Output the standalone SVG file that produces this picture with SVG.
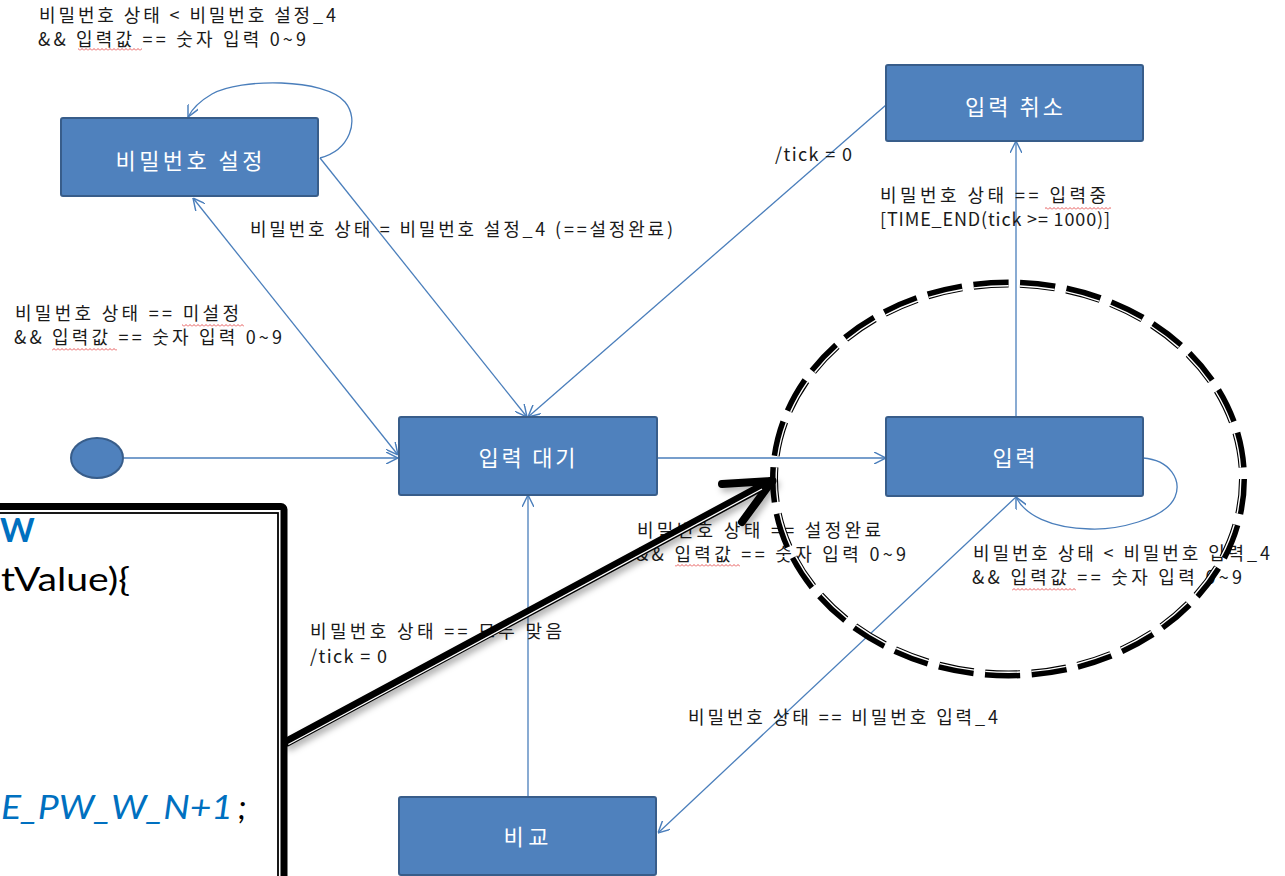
<svg xmlns="http://www.w3.org/2000/svg" width="1285" height="876" viewBox="0 0 1285 876">
<style>
.node{fill:#4F81BD;stroke:#385D8A;stroke-width:2}
.nt{font-family:"Noto Sans CJK KR","Noto Sans",sans-serif;font-size:22px;fill:#fff;text-anchor:middle}
.lb{font-family:"Noto Sans CJK KR","Noto Sans",sans-serif;font-size:18px;fill:#1a1a1a}
.cn{fill:none;stroke:#4A7EBB;stroke-width:1.3}
.code{font-family:Lato,"Open Sans",sans-serif;font-size:33px}
</style>
<defs>
<marker id="arr" viewBox="0 0 10 10" markerWidth="12" markerHeight="12" refX="10" refY="5" orient="auto-start-reverse" markerUnits="userSpaceOnUse">
<path d="M0,0 L10,5 L0,10" fill="none" stroke="#4A7EBB" stroke-width="1.2"/>
</marker>
<pattern id="wave" width="4" height="3" patternUnits="userSpaceOnUse">
<path d="M0,2.5 L2,0.5 L4,2.5" fill="none" stroke="#e03030" stroke-width="0.8"/>
</pattern>
<filter id="shadow" x="-10%" y="-20%" width="130%" height="150%">
<feDropShadow dx="3" dy="4" stdDeviation="3" flood-color="#000" flood-opacity="0.3"/>
</filter>
</defs>
<rect width="1285" height="876" fill="#fff"/>

<g id="connectors">
<path class="cn" d="M320,158 C350,150 360,120 345,102 C325,78 240,78 212,94 C200,101 192,109 188,117" marker-end="url(#arr)"/>
<path class="cn" d="M124,458 L398,458" marker-end="url(#arr)"/>
<path class="cn" d="M193,198 L398,455" marker-start="url(#arr)" marker-end="url(#arr)"/>
<path class="cn" d="M320,158 L527,417" marker-end="url(#arr)"/>
<path class="cn" d="M886,105 L528,417" marker-end="url(#arr)"/>
<path class="cn" d="M658,458 L886,458" marker-end="url(#arr)"/>
<path class="cn" d="M1016,417 L1016,141" marker-end="url(#arr)"/>
<path class="cn" d="M1143,458 C1170,460 1182,480 1175,497 C1165,520 1115,530 1090,529 C1050,528 1025,515 1016,497" marker-end="url(#arr)"/>
<path class="cn" d="M1016,497 L658,833" marker-end="url(#arr)"/>
<path class="cn" d="M528,797 L528,495" marker-end="url(#arr)"/>
</g>

<g id="labels">
<text class="lb" x="39" y="22" textLength="297" lengthAdjust="spacing">비밀번호 상태 &lt; 비밀번호 설정_4</text>
<text class="lb" x="38" y="46" textLength="268" lengthAdjust="spacing">&amp;&amp; 입력값 == 숫자 입력 0~9</text>
<text class="lb" x="250" y="236" textLength="423" lengthAdjust="spacing">비밀번호 상태 = 비밀번호 설정_4 (==설정완료)</text>
<text class="lb" x="15" y="320" textLength="224" lengthAdjust="spacing">비밀번호 상태 == 미설정</text>
<text class="lb" x="14" y="344" textLength="268" lengthAdjust="spacing">&amp;&amp; 입력값 == 숫자 입력 0~9</text>
<text class="lb" x="775" y="161" textLength="77" lengthAdjust="spacing">/tick = 0</text>
<text class="lb" x="880" y="202" textLength="226" lengthAdjust="spacing">비밀번호 상태 == 입력중</text>
<text class="lb" x="880" y="226" textLength="230" lengthAdjust="spacing">[TIME_END(tick &gt;= 1000)]</text>
<text class="lb" x="637" y="537" textLength="244" lengthAdjust="spacing">비밀번호 상태 == 설정완료</text>
<text class="lb" x="636" y="561" textLength="270" lengthAdjust="spacing">&amp;&amp; 입력값 == 숫자 입력 0~9</text>
<text class="lb" x="973" y="560" textLength="297" lengthAdjust="spacing">비밀번호 상태 &lt; 비밀번호 입력_4</text>
<text class="lb" x="972" y="584" textLength="270" lengthAdjust="spacing">&amp;&amp; 입력값 == 숫자 입력 0~9</text>
<text class="lb" x="310" y="638" textLength="252" lengthAdjust="spacing">비밀번호 상태 == 모두 맞음</text>
<text class="lb" x="310" y="663" textLength="77" lengthAdjust="spacing">/tick = 0</text>
<text class="lb" x="688" y="724" textLength="310" lengthAdjust="spacing">비밀번호 상태 == 비밀번호 입력_4</text>
<rect x="78" y="48" width="64" height="3" fill="url(#wave)"/>
<rect x="182" y="324" width="62" height="3" fill="url(#wave)"/>
<rect x="52" y="348" width="65" height="3" fill="url(#wave)"/>
<rect x="1045" y="207" width="66" height="3" fill="url(#wave)"/>
<rect x="675" y="564" width="65" height="3" fill="url(#wave)"/>
<rect x="1012" y="588" width="64" height="3" fill="url(#wave)"/>
</g>

<g id="initial"><ellipse class="node" cx="97" cy="458" rx="26" ry="20"/></g>
<g id="pw-setting"><rect class="node" x="61" y="118" width="257" height="78" rx="2"/><text class="nt" x="189" y="169" textLength="147" lengthAdjust="spacing">비밀번호 설정</text></g>
<g id="input-cancel"><rect class="node" x="886" y="65" width="257" height="76" rx="2"/><text class="nt" x="1014" y="115" textLength="98" lengthAdjust="spacing">입력 취소</text></g>
<g id="input-wait"><rect class="node" x="399" y="417" width="258" height="78" rx="2"/><text class="nt" x="527" y="466" textLength="97" lengthAdjust="spacing">입력 대기</text></g>
<g id="input"><rect class="node" x="886" y="417" width="257" height="79" rx="2"/><text class="nt" x="1014" y="466" textLength="43" lengthAdjust="spacing">입력</text></g>
<g id="compare"><rect class="node" x="399" y="797" width="257" height="78" rx="2"/><text class="nt" x="526" y="845" textLength="45" lengthAdjust="spacing">비교</text></g>

<g id="callout">
<rect x="-20" y="506.5" width="304" height="420" rx="3" fill="#fff" stroke="#000" stroke-width="7"/>
<rect x="-20" y="513" width="298" height="420" fill="none" stroke="#000" stroke-width="1.8"/>
<text class="code" x="0" y="542" fill="#0070C0" font-weight="bold" font-size="25">W</text>
<text class="code" x="1" y="591" fill="#000" textLength="129" lengthAdjust="spacingAndGlyphs">tValue){</text>
<text class="code" x="1" y="819" fill="#0070C0" font-style="italic" font-size="36" textLength="232" lengthAdjust="spacingAndGlyphs">E_PW_W_N+1</text>
<text class="code" x="238" y="819" fill="#000" font-style="italic" font-size="34">;</text>
</g>

<g id="highlight-ellipse">
<ellipse cx="1008.5" cy="479" rx="234.5" ry="195.5" fill="none" stroke="#000" stroke-width="8" pathLength="1000" stroke-dasharray="26 8.48"/>
<ellipse cx="1008.5" cy="479" rx="232.3" ry="193.3" fill="none" stroke="#fff" stroke-width="1.4" pathLength="1000" stroke-dasharray="26 8.48"/>
</g>

<g id="callout-arrow" filter="url(#shadow)">
<path d="M287,742 L772,481" stroke="#000" stroke-width="9" stroke-linecap="round" fill="none"/>
<path d="M722,484 L772,481 L742,522" stroke="#000" stroke-width="8" fill="none" stroke-linecap="round" stroke-linejoin="round"/>
<path d="M288.3,744.5 L762,489" stroke="#fff" stroke-width="1.3" fill="none"/>
</g>
</svg>
